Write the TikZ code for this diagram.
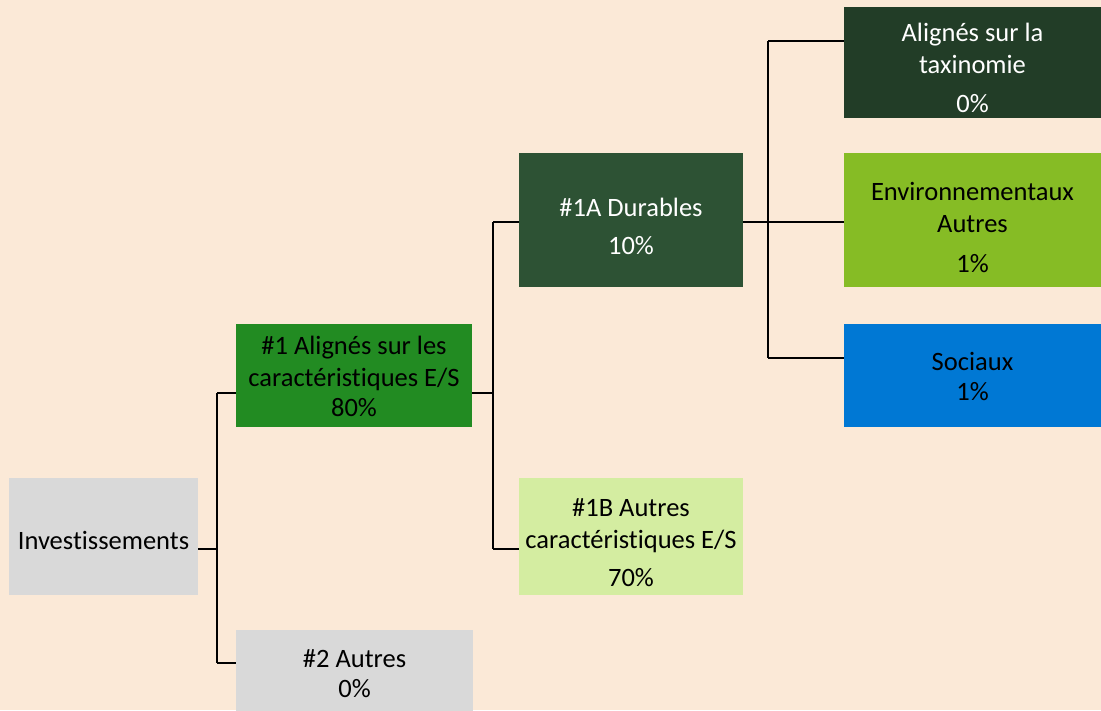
\documentclass[tikz,border=0pt]{standalone}
\usepackage{fontspec}
\setmainfont{Carlito}[RawFeature={-liga;-clig;-dlig;-calt}]
\definecolor{bgc}{HTML}{FBE9D7}
\definecolor{grayc}{HTML}{D9D9D9}
\definecolor{greenA}{HTML}{228B22}
\definecolor{greenD}{HTML}{2D5234}
\definecolor{greenT}{HTML}{223D27}
\definecolor{greenE}{HTML}{86BC25}
\definecolor{blueS}{HTML}{0078D4}
\definecolor{greenL}{HTML}{D4EDA1}
\newcommand{\mytxt}[2]{\raisebox{-#1}[\height][\depth]{\begin{tabular}{@{}c@{}}#2\end{tabular}}}
\tikzset{
  box/.style={rectangle, inner sep=0pt, anchor=center,
    font=\fontsize{26.5}{32}\selectfont},
  conn/.style={draw=black, line width=1.8pt}
}
\begin{document}
\begin{tikzpicture}[x=1pt,y=-1pt]
\useasboundingbox (0,0) rectangle (1101,710);
\fill[bgc] (0,0) rectangle (1101,710);
\clip (0,0) rectangle (1101,710);
% boxes
\node[box, fill=grayc, minimum width=189pt, minimum height=117pt] (inv) at (103.5,536.5) {\mytxt{6.5pt}{Investissements}};
\node[box, fill=greenA, minimum width=236pt, minimum height=103pt] (n1) at (354,375.5) {\mytxt{3.5pt}{\#1 Alignés sur les\\caractéristiques E/S\\[-2pt]80\%}};
\node[box, fill=grayc, minimum width=237pt, minimum height=88pt] (n2) at (354.5,674) {\mytxt{2.5pt}{\#2 Autres\\[-2pt]0\%}};
\node[box, fill=greenD, text=white, minimum width=224pt, minimum height=134pt] (n1a) at (631,220) {\mytxt{9pt}{\#1A Durables\\[6pt]10\%}};
\node[box, fill=greenL, minimum width=224pt, minimum height=117pt] (n1b) at (631,536.5) {\mytxt{9pt}{\#1B Autres\\caractéristiques E/S\\[6pt]70\%}};
\node[box, fill=greenT, text=white, minimum width=257pt, minimum height=111pt] (tax) at (972.5,62.5) {\mytxt{8.5pt}{Alignés sur la\\taxinomie\\[7pt]0\%}};
\node[box, fill=greenE, minimum width=257pt, minimum height=134pt] (env) at (972.5,220) {\mytxt{10pt}{Environnementaux\\Autres\\[8pt]1\%}};
\node[box, fill=blueS, minimum width=257pt, minimum height=103pt] (soc) at (972.5,375.5) {\mytxt{3.5pt}{Sociaux\\[-2pt]1\%}};
% junction coordinates
\coordinate (t1) at (217,393);
\coordinate (t2) at (217,663);
\coordinate (tm) at (217,549);
\coordinate (u1) at (493,222);
\coordinate (u2) at (493,549);
\coordinate (v1) at (768,41);
\coordinate (v2) at (768,358);
% connectors
\draw[conn] (inv.east |- tm) -- (tm);
\draw[conn] (t1) -- (t2);
\draw[conn] (t1) -- (t1 -| n1.west);
\draw[conn] (t2) -- (t2 -| n2.west);
\draw[conn] (n1.east |- t1) -- (t1 -| u1);
\draw[conn] (u1) -- (u2);
\draw[conn] (u1) -- (u1 -| n1a.west);
\draw[conn] (u2) -- (u2 -| n1b.west);
\draw[conn] (n1a.east |- u1) -- (u1 -| env.west);
\draw[conn] (v1) -- (v2);
\draw[conn] (v1) -- (v1 -| tax.west);
\draw[conn] (v2) -- (v2 -| soc.west);
\end{tikzpicture}
\end{document}
